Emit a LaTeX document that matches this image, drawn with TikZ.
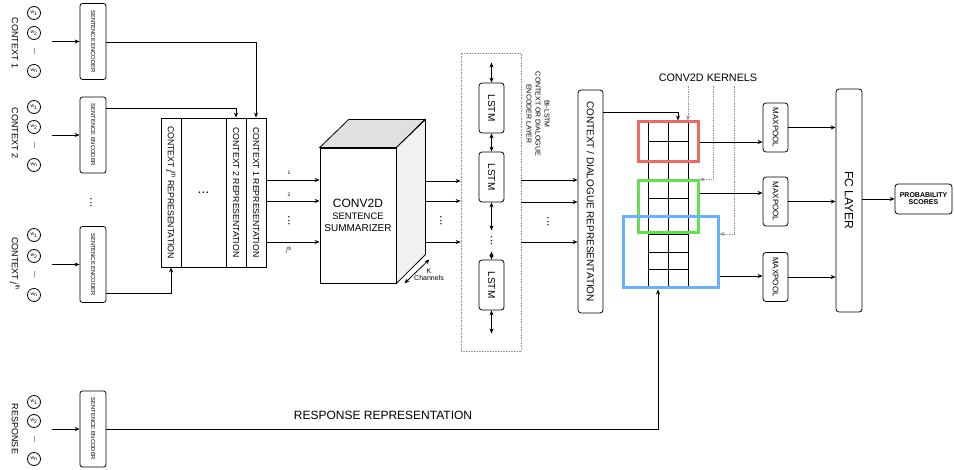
\documentclass[tikz,border=0pt]{standalone}
\usepackage{fontspec}
\setmainfont{Liberation Sans}
\usepackage{tikz}
\usetikzlibrary{arrows.meta}
\definecolor{kernelred}{RGB}{234,107,102}
\definecolor{kernelgreen}{RGB}{97,224,80}
\definecolor{kernelblue}{RGB}{102,178,255}
\definecolor{convtop}{RGB}{224,224,224}
\definecolor{convside}{RGB}{241,241,241}
\definecolor{dotgray}{RGB}{150,150,150}
\newcommand{\fsz}[1]{\fontsize{#1}{#1}\selectfont}
\newcommand{\vtxt}[1]{\rotatebox{-90}{#1}}

\begin{document}
\begin{tikzpicture}[x=1pt, y=-1pt, line width=0.8pt, >={Stealth[length=5pt,width=4pt]},
  word/.style={circle, draw, minimum size=13pt, inner sep=0pt, font=\fsz{5}},
  encbox/.style={draw, rounded corners=2.5pt, minimum width=26pt, minimum height=76pt, inner sep=0pt, font=\fsz{5.8}},
  vlabel/.style={rotate=-90, font=\fsz{9}},
  repcol/.style={draw, minimum width=20pt, minimum height=149pt, inner sep=0pt, font=\fsz{8.7}},
  lstmbox/.style={draw, rounded corners=3pt, minimum width=25pt, minimum height=50pt, inner sep=0pt, font=\fsz{10}},
  tallbox/.style={draw, rounded corners=3pt, minimum width=26pt, minimum height=223pt, inner sep=0pt},
  poolbox/.style={draw, rounded corners=3pt, minimum width=25pt, minimum height=49pt, inner sep=0pt, font=\fsz{8}},
  kernel/.style={line width=3pt, inner sep=0pt},
  tick/.style={font=\fsz{5}},
  vdots/.style={rotate=-90, font=\fsz{12}},
  kline/.style={->, densely dotted, draw=dotgray, line width=0.7pt}]
\useasboundingbox (0,0) rectangle (954,470);

% Word inputs and sentence encoders
\foreach \g/\ya/\yb/\yc/\yd/\ye in {c1/13/33/52/71/41.5, c2/107/127/146/165/135, cj/235/256/275/295/264.5, r/402/421/440/459/429} {
  \node[word] (\g w1) at (34,\ya) {w\textsubscript{1}};
  \node[word] (\g w2) at (34,\yb) {w\textsubscript{2}};
  \node[rotate=-90, font=\fsz{6}] (\g dash) at (34,\yc) {—};
  \node[word] (\g wn) at (34,\yd) {w\textsubscript{n}};
  \node[encbox] (enc\g) at (93,\ye) {\vtxt{SENTENCE ENCODER}};
  \draw[->] ([xshift=-28pt]enc\g.west) -- (enc\g.west);
}
\node[vlabel] (lab1) at (15,43) {CONTEXT 1};
\node[vlabel] (lab2) at (15,133) {CONTEXT 2};
\node[vlabel] (labj) at (15,264) {CONTEXT \textit{j}\textsuperscript{th}};
\node[vlabel] (labr) at (15,429) {RESPONSE};
\node[vdots] (encdots) at (91,203) {...};

% Context representation block
\node[repcol] (colj) at (171,192.5) {\vtxt{CONTEXT \textit{j}\textsuperscript{th} REPRESENTATION}};
\node[repcol, minimum width=45pt] (coldots) at (203.5,192.5) {\fsz{14}...};
\node[repcol] (col2) at (236,192.5) {\vtxt{CONTEXT 2 REPRESENTATION}};
\node[repcol] (col1) at (256,192.5) {\vtxt{CONTEXT 1 REPRESENTATION}};
\draw[->] (encc1.east |- 0,42) -| (col1.north);
\draw[->] (encc2.east |- 0,108) -| (col2.north);
\draw[->] (enccj.east |- 0,293) -| (colj.south);

% Conv2D summarizer
\node[draw, fill=white, minimum width=76pt, minimum height=135pt, inner sep=0pt, align=center] (conv) at (358,215.5)
  {\fontsize{12}{14}\selectfont CONV2D\\\fontsize{9.4}{10.5}\selectfont SENTENCE\\SUMMARIZER};
\filldraw[fill=convtop] (conv.north west) -- ++(29,-28) -- ++(76,0) -- (conv.north east) -- cycle;
\filldraw[fill=convside] (conv.north east) -- ++(29,-28) -- ++(0,135) -- (conv.south east) -- cycle;
\coordinate (convside) at ([xshift=29pt]conv.east);
\draw[<->] ([xshift=8pt]conv.south east) -- ++(25,-24);
\node[font=\fsz{7}, align=center] (kch) at (429,275) {K\\Channels};

\foreach \y in {180,201,242}
  \draw[->] (col1.east |- 0,\y) -- (conv.west |- 0,\y);
\node[tick] (in1) at (289,173) {1};
\node[tick] (in2) at (289,195) {2};
\node[tick] (inj) at (289,250) {\textit{j}\textsuperscript{th}};
\node[vdots] (indots) at (289,221) {...};

% Bi-LSTM layer
\node[draw=dotgray, densely dotted, line width=0.6pt, minimum width=60pt, minimum height=298pt, inner sep=0pt] (lstmlayer) at (491,202) {};
\node[lstmbox] (lstm1) at (491.5,108) {\vtxt{LSTM}};
\node[lstmbox] (lstm2) at (491.5,177) {\vtxt{LSTM}};
\node[lstmbox] (lstm3) at (491.5,285) {\vtxt{LSTM}};
\draw[<->] ([yshift=20pt]lstm1.north) -- (lstm1.north);
\draw[<->] (lstm1.south) -- (lstm2.north);
\draw[<->] (lstm2.south) -- ([yshift=-28pt]lstm2.south);
\node[vdots] (lstmdots) at (491.5,241) {...};
\draw[<->] ([yshift=8pt]lstm3.north) -- (lstm3.north);
\draw[<->] (lstm3.south) -- ([yshift=-23pt]lstm3.south);
\node[rotate=-90, align=center, font=\fontsize{7}{9}\selectfont] (bilabel) at (538,114) {BI-LSTM\\CONTEXT OR DIALOGUE\\ENCODER LAYER};

\foreach \y in {181,201,242}
  \draw[->] (convside |- 0,\y) -- (lstmlayer.west |- 0,\y);
\node[vdots] (outdots) at (441,221) {...};

% Context / dialogue representation
\node[tallbox, minimum width=25pt, font=\fsz{10}] (ctxrep) at (590.5,201.5) {\vtxt{CONTEXT / DIALOGUE REPRESENTATION}};
\foreach \y in {180,202,242}
  \draw[->] (lstmlayer.east |- 0,\y) -- (ctxrep.west |- 0,\y);
\node[vdots] (ctxdots) at (548,222) {...};

% Kernel grid
\foreach \x in {648,668,688}
  \draw (\x,122) -- (\x,286);
\foreach \y in {122,141,161,180,198,216,234,252,269,286}
  \draw (648,\y) -- (688,\y);
\node[kernel, draw=kernelred, minimum width=60pt, minimum height=40pt] (kred) at (668,142) {};
\node[kernel, draw=kernelgreen, minimum width=60pt, minimum height=52pt] (kgreen) at (668,207) {};
\node[kernel, draw=kernelblue, minimum width=95pt, minimum height=71pt] (kblue) at (670.5,252.5) {};
\draw[->] (ctxrep.east |- 0,112) -| ([xshift=10pt]kred.north);

% Kernel labels
\node[font=\fsz{10.8}] (klabel) at (708,78) {CONV2D KERNELS};
\draw[kline] ([xshift=-20pt]klabel.south) -- ([xshift=20pt]kred.north);
\draw[kline] ([xshift=5pt]klabel.south) |- (kgreen.north east);
\draw[kline] ([xshift=26pt]klabel.south) |- (kblue.east |- 0,234);

% Max pooling and output
\node[poolbox] (pool1) at (775.5,127.5) {\vtxt{MAXPOOL}};
\node[poolbox] (pool2) at (775.5,201.5) {\vtxt{MAXPOOL}};
\node[poolbox] (pool3) at (775.5,277) {\vtxt{MAXPOOL}};
\draw[->] (kred.east) -- (pool1.west |- kred.east);
\draw[->] (kgreen.east |- 0,193) -- (pool2.west |- 0,193);
\draw[->] (kblue.east |- 0,276) -- (pool3.west |- 0,276);
\node[tallbox, font=\fsz{12}] (fc) at (849,200.5) {\vtxt{FC LAYER}};
\foreach \p in {pool1,pool2,pool3}
  \draw[->] (\p.east) -- (fc.west |- \p.east);
\node[draw, rounded corners=3pt, minimum width=57pt, minimum height=30pt, inner sep=0pt, align=center, font=\bfseries\fsz{7}] (prob) at (923.5,199) {PROBABILITY\\SCORES};
\draw[->] (fc.east |- prob.west) -- (prob.west);

% Response path
\draw[->] (encr.east) -| ([xshift=-12.5pt]kblue.south);
\node[font=\fsz{12}] (resplabel) at (383,415) {RESPONSE REPRESENTATION};

\end{tikzpicture}
\end{document}
